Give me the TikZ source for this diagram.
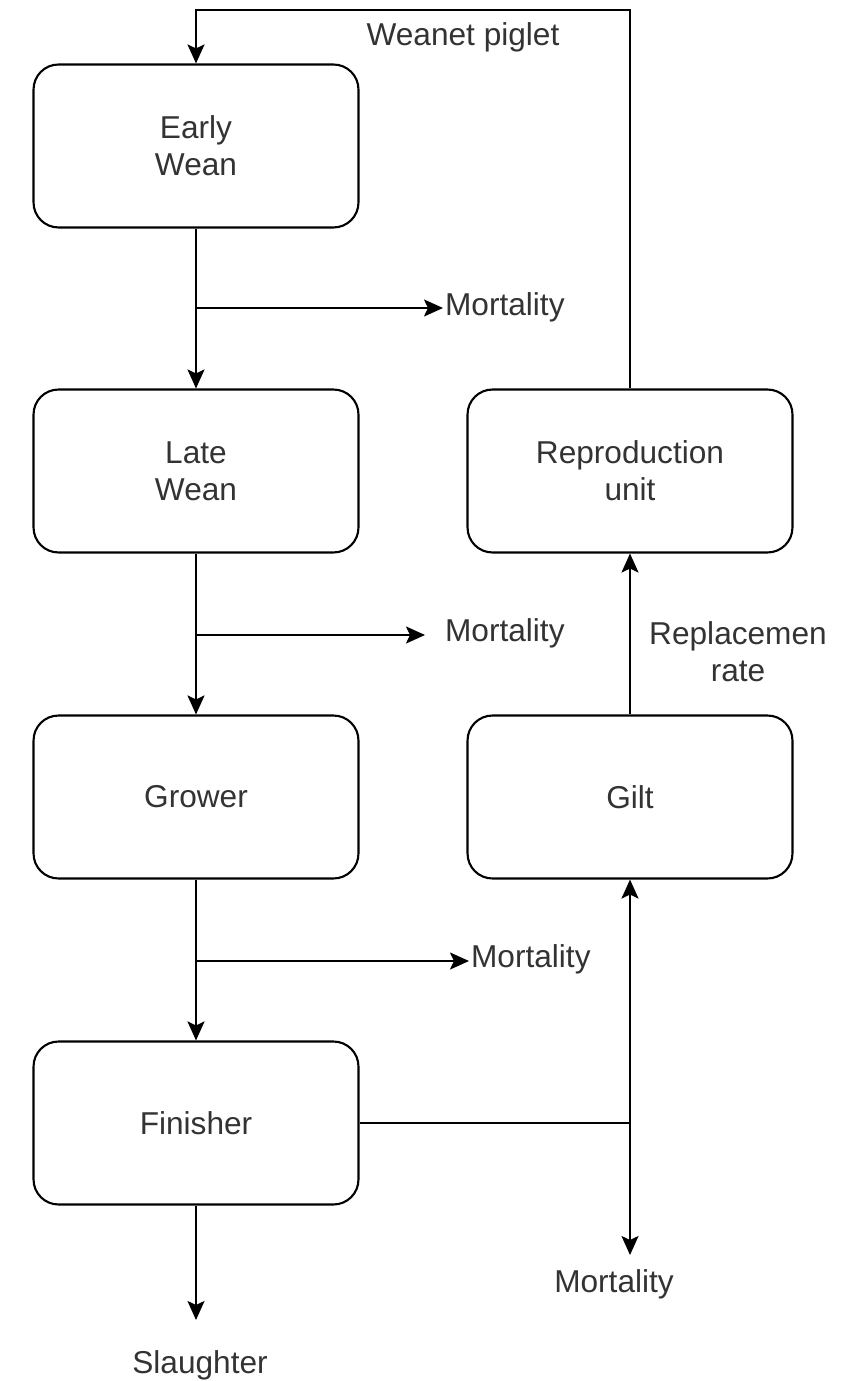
\documentclass[tikz,border=0pt]{standalone}
\usepackage{fontspec}
\setmainfont{Liberation Sans}
\usetikzlibrary{arrows.meta}
\definecolor{txtgray}{HTML}{333333}

\tikzset{
  stage/.style={draw, line width=1.2pt, rounded corners=0.5cm, minimum width=6.5cm,
    minimum height=3.26cm, align=center, text=txtgray, font=\fontsize{18}{21}\selectfont},
  lbl/.style={text=txtgray, align=center, font=\fontsize{18}{21}\selectfont, inner sep=1pt},
  flow/.style={line width=1.2pt, -{Stealth[length=0.38cm, width=0.34cm, inset=0.08cm]}},
  wire/.style={line width=1.2pt}
}

\begin{document}
\begin{tikzpicture}[x=0.02cm, y=-0.02cm]
  \useasboundingbox (0,0) rectangle (841,1381);

  \node[name=ew, stage] at (196,146) {Early\\Wean};
  \node[name=lw, stage] at (196,471) {Late\\Wean};
  \node[name=gr, stage] at (196,797) {Grower};
  \node[name=fi, stage] at (196,1123) {Finisher};
  \node[name=ru, stage] at (630,471) {Reproduction\\unit};
  \node[name=gi, stage] at (630,797) {Gilt};

  \node[name=M1, lbl, anchor=west] at (443,307) {Mortality};
  \node[name=M2, lbl, anchor=west] at (443,633) {Mortality};
  \node[name=M3, lbl, anchor=west] at (469,959) {Mortality};
  \node[name=M4, lbl] at (614,1284) {Mortality};
  \node[name=S, lbl] at (200,1365) {Slaughter};
  \node[name=W, lbl] at (463,37) {Weanet piglet};
  \node[name=R, lbl] at (738,652) {Replacemen\\rate};

  \coordinate (j1) at (196,308);
  \coordinate (j2) at (196,635);
  \coordinate (j3) at (196,961);
  \coordinate (j4) at (630,1123);
  \coordinate (t1) at (630,10);
  \coordinate (t2) at (196,10);

  \draw[flow] (ew.south) -- (lw.north);
  \draw[flow] (lw.south) -- (gr.north);
  \draw[flow] (gr.south) -- (fi.north);
  \draw[flow] (fi.south) -- (196,1320);

  \draw[flow] (j1) -- (j1 -| M1.west);
  \draw[flow] (j2) -- (425,635);
  \draw[flow] (j3) -- (j3 -| M3.west);

  \draw[wire] (fi.east) -- (j4);
  \draw[flow] (j4) -- (gi.south);
  \draw[flow] (j4) -- (630,1255);
  \draw[flow] (gi.north) -- (ru.south);
  \draw[flow] (ru.north) -- (t1) -- (t2) -- (ew.north);
\end{tikzpicture}
\end{document}
